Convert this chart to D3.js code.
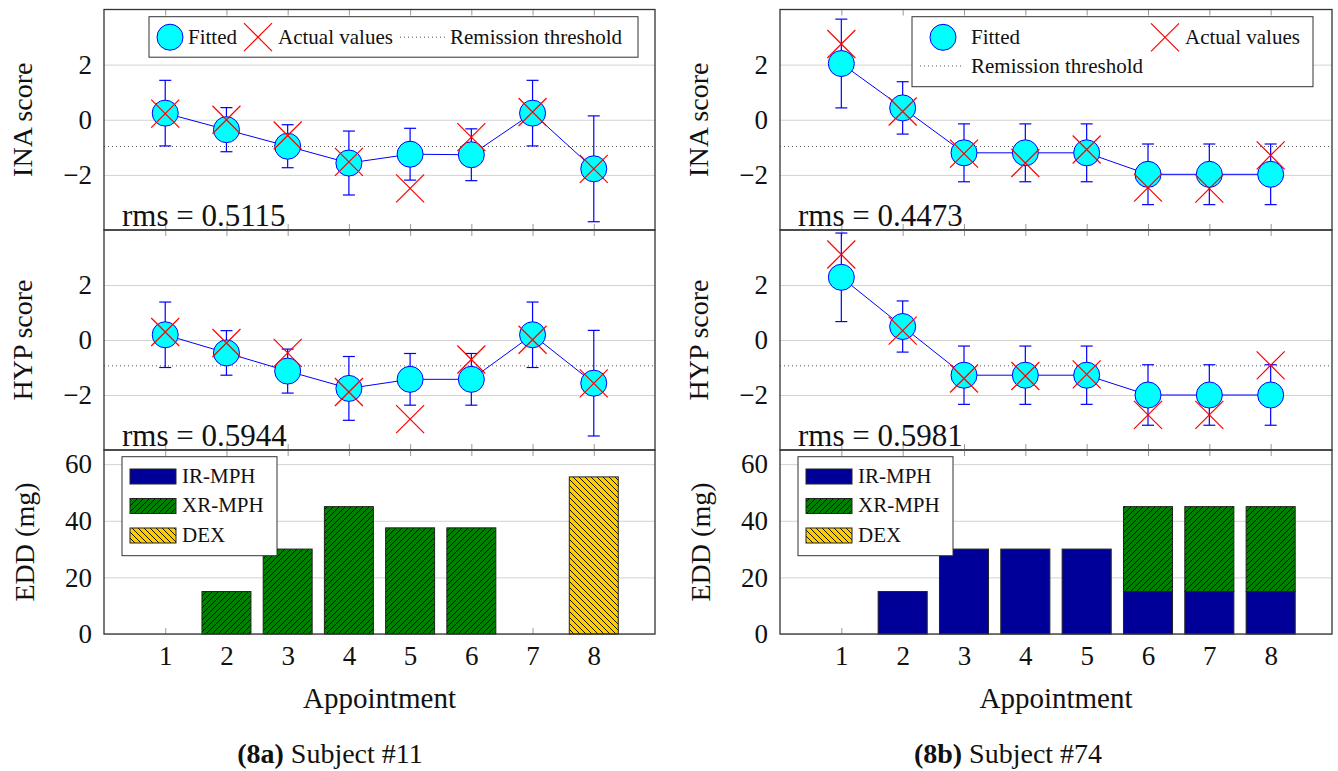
<!DOCTYPE html>
<html>
<head>
<meta charset="utf-8">
<script src="https://cdn.jsdelivr.net/npm/d3@7"></script>
<style>
  body { margin: 0; background: #fff; }
  text { font-family: "Liberation Serif", "Times New Roman", serif; fill: #111; }
</style>
</head>
<body>
<div id="chart"></div>
<script>
// appointments and tick labels
const appointments = [1, 2, 3, 4, 5, 6, 7, 8];
const scoreTicks = [-2, 0, 2];
const eddTicks = [0, 20, 40, 60];
const drugs = ["IR-MPH", "XR-MPH", "DEX"];

const inaThreshold = -0.97;
const hypThreshold = -0.94;

// Subject #11
const s11InaFitted = [0.24, -0.36, -0.96, -1.57, -1.25, -1.27, 0.24, -1.78];
const s11InaError  = [1.19, 0.80, 0.78, 1.16, 0.94, 0.94, 1.19, 1.92];
const s11InaActual = [0.22, 0.0, -0.57, -1.53, -2.49, -0.63, 0.28, -1.78];
const s11HypFitted = [0.19, -0.47, -1.13, -1.76, -1.43, -1.43, 0.19, -1.57];
const s11HypError  = [1.19, 0.81, 0.80, 1.16, 0.94, 0.94, 1.19, 1.92];
const s11HypActual = [0.29, -0.11, -0.47, -1.89, -2.88, -0.71, 0.01, -1.58];
const s11IrMph = [0, 0, 0, 0, 0, 0, 0, 0];
const s11XrMph = [0, 15, 30, 45, 37.5, 37.5, 0, 0];
const s11Dex   = [0, 0, 0, 0, 0, 0, 0, 55.5];
const s11Rms = ["0.5115", "0.5944"];

// Subject #74
const s74InaFitted = [2.04, 0.43, -1.2, -1.2, -1.2, -1.98, -1.98, -1.98];
const s74InaError  = [1.61, 0.95, 1.05, 1.05, 1.05, 1.1, 1.1, 1.1];
const s74InaActual = [2.75, 0.3, -1.23, -1.57, -1.08, -2.46, -2.5, -1.29];
const s74HypFitted = [2.28, 0.49, -1.28, -1.28, -1.28, -2.0, -2.0, -2.0];
const s74HypError  = [1.61, 0.93, 1.06, 1.06, 1.06, 1.1, 1.1, 1.1];
const s74HypActual = [3.11, 0.34, -1.4, -1.31, -1.25, -2.72, -2.72, -0.92];
const s74IrMph = [0, 15, 30, 30, 30, 15, 15, 15];
const s74XrMph = [0, 0, 0, 0, 0, 30, 30, 30];
const s74Dex   = [0, 0, 0, 0, 0, 0, 0, 0];
const s74Rms = ["0.4473", "0.5981"];

// layout
const W = 1338, H = 771;
const rows = { top: 9.5, mid: 230, bot: 450, base: 634 };

const svg = d3.select("#chart").append("svg")
    .attr("width", W).attr("height", H);

// hatch patterns
const defs = svg.append("defs");
function hatch(id, color, d) {
    const p = defs.append("pattern").attr("id", id)
        .attr("patternUnits", "userSpaceOnUse")
        .attr("width", 6).attr("height", 6);
    p.append("rect").attr("width", 6).attr("height", 6).attr("fill", color);
    p.append("path").attr("d", d).attr("stroke", "#000").attr("stroke-width", 0.9);
}
hatch("ne", "#008000", "M0,6L6,0M-1,1L1,-1M5,7L7,5");
hatch("nw", "#ffcc00", "M0,0L6,6M-1,5L1,7M5,-1L7,1");
const drugFill = { "IR-MPH": "#000099", "XR-MPH": "url(#ne)", "DEX": "url(#nw)" };

function table(ir, xr, dex) {
    return appointments.map((a, i) => ({ a: a, "IR-MPH": ir[i], "XR-MPH": xr[i], "DEX": dex[i] }));
}

const subjects = [
    {
        x0: 104, x1: 655, captionX: 330, tag: "(8a)", name: " Subject #11", legend: "row",
        scores: [
            { label: "INA score", fit: s11InaFitted, err: s11InaError, act: s11InaActual, thr: inaThreshold, rms: s11Rms[0] },
            { label: "HYP score", fit: s11HypFitted, err: s11HypError, act: s11HypActual, thr: hypThreshold, rms: s11Rms[1] }
        ],
        doses: table(s11IrMph, s11XrMph, s11Dex)
    },
    {
        x0: 780, x1: 1332, captionX: 1008, tag: "(8b)", name: " Subject #74", legend: "grid",
        scores: [
            { label: "INA score", fit: s74InaFitted, err: s74InaError, act: s74InaActual, thr: inaThreshold, rms: s74Rms[0] },
            { label: "HYP score", fit: s74HypFitted, err: s74HypError, act: s74HypActual, thr: hypThreshold, rms: s74Rms[1] }
        ],
        doses: table(s74IrMph, s74XrMph, s74Dex)
    }
];

const crossPath = "M-14,-14L14,14M-14,14L14,-14";

function yLabels(g, y, ticks, x0, x1) {
    // horizontal grid
    g.append("g").attr("transform", "translate(" + x0 + ",0)")
        .call(d3.axisLeft(y).tickValues(ticks).tickSize(-(x1 - x0)).tickFormat(""))
        .call(s => s.select(".domain").remove())
        .selectAll("line").attr("stroke", "#d2d2d2");
    // tick labels
    g.append("g").attr("transform", "translate(" + x0 + ",0)")
        .call(d3.axisLeft(y).tickValues(ticks).tickSize(0).tickPadding(12))
        .call(s => s.select(".domain").remove())
        .selectAll("text")
        .style("font-family", "'Liberation Serif', serif")
        .style("font-size", "27px")
        .attr("fill", "#222");
}

function xTicks(g, x, yTop, yBottom) {
    g.append("g").attr("transform", "translate(0," + yBottom + ")")
        .call(d3.axisBottom(x).tickValues(appointments).tickSize(-6).tickFormat(""))
        .call(s => s.select(".domain").remove())
        .selectAll("line").attr("stroke", "#999");
    g.append("g").attr("transform", "translate(0," + yTop + ")")
        .call(d3.axisTop(x).tickValues(appointments).tickSize(-6).tickFormat(""))
        .call(s => s.select(".domain").remove())
        .selectAll("line").attr("stroke", "#999");
}

function yTitle(g, txt, x, y) {
    g.append("text")
        .attr("transform", "translate(" + x + "," + y + ")rotate(-90)")
        .attr("text-anchor", "middle")
        .style("font-size", "28px")
        .text(txt);
}

function cross(g, cx, cy) {
    return g.append("path")
        .attr("transform", "translate(" + cx + "," + cy + ")")
        .attr("d", crossPath)
        .attr("fill", "none")
        .style("stroke", "#ff0000")
        .style("stroke-width", "1.2px");
}

function legendFitted(g, s) {
    const box = g.append("g");
    if (s.legend === "row") {
        const bx = s.x1 - 17 - 489, by = 16.7, cy = by + 20.5;
        box.append("rect").attr("x", bx).attr("y", by).attr("width", 489).attr("height", 40.5)
            .attr("fill", "#fff").attr("stroke", "#333");
        box.append("circle").attr("cx", bx + 21).attr("cy", cy).attr("r", 13)
            .attr("fill", "cyan").attr("stroke", "blue");
        box.append("text").attr("x", bx + 39).attr("y", cy + 7).style("font-size", "21px").text("Fitted");
        cross(box, bx + 109, cy);
        box.append("text").attr("x", bx + 129).attr("y", cy + 7).style("font-size", "21px").text("Actual values");
        box.append("line").attr("x1", bx + 251).attr("x2", bx + 296).attr("y1", cy).attr("y2", cy)
            .attr("stroke", "#555").attr("stroke-dasharray", "1,3");
        box.append("text").attr("x", bx + 301).attr("y", cy + 7).style("font-size", "21px").text("Remission threshold");
    } else {
        const bx = s.x1 - 19 - 401, by = 16.7, cy = by + 20.6, cy2 = by + 49.3;
        box.append("rect").attr("x", bx).attr("y", by).attr("width", 401).attr("height", 70)
            .attr("fill", "#fff").attr("stroke", "#333");
        box.append("circle").attr("cx", bx + 31).attr("cy", cy).attr("r", 13)
            .attr("fill", "cyan").attr("stroke", "blue");
        box.append("text").attr("x", bx + 59).attr("y", cy + 7).style("font-size", "21px").text("Fitted");
        cross(box, bx + 253, cy);
        box.append("text").attr("x", bx + 273).attr("y", cy + 7).style("font-size", "21px").text("Actual values");
        box.append("line").attr("x1", bx + 8).attr("x2", bx + 51).attr("y1", cy2).attr("y2", cy2)
            .attr("stroke", "#555").attr("stroke-dasharray", "1,3");
        box.append("text").attr("x", bx + 59).attr("y", cy2 + 7).style("font-size", "21px").text("Remission threshold");
    }
}

subjects.forEach(function (s) {
    const g = svg.append("g");

    const x = d3.scaleLinear().domain([0, 9]).range([s.x0, s.x1]);

    // two score panels
    const bands = [[rows.top, rows.mid], [rows.mid, rows.bot]];
    s.scores.forEach(function (p, k) {
        const top = bands[k][0], bottom = bands[k][1];
        const y = d3.scaleLinear().domain([-4, 4]).range([bottom, top]);
        const pg = g.append("g");

        yLabels(pg, y, scoreTicks, s.x0, s.x1);
        xTicks(pg, x, top, bottom);
        yTitle(pg, p.label, s.x0 - 72, (top + bottom) / 2);

        // remission threshold
        pg.append("line")
            .attr("x1", s.x0).attr("x2", s.x1)
            .attr("y1", y(p.thr)).attr("y2", y(p.thr))
            .attr("stroke", "#555").attr("stroke-dasharray", "1,3");

        const pts = appointments.map((a, i) => ({ a: a, fit: p.fit[i], err: p.err[i], act: p.act[i] }));

        // fitted line
        pg.append("path").datum(pts)
            .attr("fill", "none").attr("stroke", "blue").attr("stroke-width", 1)
            .attr("d", d3.line().x(d => x(d.a)).y(d => y(d.fit)));

        // error bars
        const eb = pg.append("g").selectAll("g").data(pts).enter().append("g")
            .attr("stroke", "blue").attr("stroke-width", 1.2);
        eb.append("line")
            .attr("x1", d => x(d.a)).attr("x2", d => x(d.a))
            .attr("y1", d => y(d.fit + d.err)).attr("y2", d => y(d.fit - d.err));
        eb.append("line")
            .attr("x1", d => x(d.a) - 6).attr("x2", d => x(d.a) + 6)
            .attr("y1", d => y(d.fit + d.err)).attr("y2", d => y(d.fit + d.err));
        eb.append("line")
            .attr("x1", d => x(d.a) - 6).attr("x2", d => x(d.a) + 6)
            .attr("y1", d => y(d.fit - d.err)).attr("y2", d => y(d.fit - d.err));

        // fitted markers
        pg.append("g").selectAll("circle").data(pts).enter().append("circle")
            .attr("cx", d => x(d.a)).attr("cy", d => y(d.fit)).attr("r", 13)
            .attr("fill", "cyan").attr("stroke", "blue").attr("stroke-width", 1);

        // actual values
        const ag = pg.append("g");
        pts.forEach(d => cross(ag, x(d.a), y(d.act)));

        // rms
        pg.append("text")
            .attr("x", s.x0 + 18).attr("y", bottom - 4)
            .style("font-size", "31px")
            .text("rms = " + p.rms);

        // frame
        pg.append("rect")
            .attr("x", s.x0).attr("y", top).attr("width", s.x1 - s.x0).attr("height", bottom - top)
            .attr("fill", "none").attr("stroke", "#333").attr("stroke-width", 1.3);

        if (k === 0) legendFitted(pg, s);
    });

    // dose panel
    const top = rows.bot, bottom = rows.base;
    const y = d3.scaleLinear().domain([0, 65]).range([bottom, top]);
    const bg = g.append("g");

    yLabels(bg, y, eddTicks, s.x0, s.x1);
    xTicks(bg, x, top, bottom);
    yTitle(bg, "EDD (mg)", s.x0 - 70, (top + bottom) / 2);

    const stacked = d3.stack().keys(drugs)(s.doses);
    const bw = (x(1) - x(0)) * 0.8;
    bg.append("g").selectAll("g").data(stacked).enter().append("g")
        .attr("fill", d => drugFill[d.key])
        .selectAll("rect")
        .data(d => d.filter(v => v[1] - v[0] > 0))
        .enter().append("rect")
        .attr("x", d => x(d.data.a) - bw / 2)
        .attr("width", bw)
        .attr("y", d => y(d[1]))
        .attr("height", d => y(d[0]) - y(d[1]))
        .attr("stroke", "#222").attr("stroke-width", 1);

    bg.append("rect")
        .attr("x", s.x0).attr("y", top).attr("width", s.x1 - s.x0).attr("height", bottom - top)
        .attr("fill", "none").attr("stroke", "#333").attr("stroke-width", 1.3);

    // dose legend
    const lx = s.x0 + 18, ly = 456.7;
    const lg = bg.append("g");
    lg.append("rect").attr("x", lx).attr("y", ly).attr("width", 155).attr("height", 99)
        .attr("fill", "#fff").attr("stroke", "#333");
    drugs.forEach(function (dname, i) {
        const ry = ly + 12.3 + i * 29.5;
        lg.append("rect").attr("x", lx + 8).attr("y", ry).attr("width", 46).attr("height", 15)
            .attr("fill", drugFill[dname]).attr("stroke", "#222");
        lg.append("text").attr("x", lx + 60).attr("y", ry + 13.5)
            .style("font-size", "21px").text(dname);
    });

    // x tick labels
    g.append("g").attr("transform", "translate(0," + bottom + ")")
        .call(d3.axisBottom(x).tickValues(appointments).tickSize(0).tickPadding(12))
        .call(a => a.select(".domain").remove())
        .selectAll("text")
        .style("font-family", "'Liberation Serif', serif")
        .style("font-size", "27px")
        .attr("fill", "#222");

    g.append("text")
        .attr("x", (s.x0 + s.x1) / 2).attr("y", 708)
        .attr("text-anchor", "middle")
        .style("font-size", "29px")
        .text("Appointment");

    const cap = g.append("text")
        .attr("x", s.captionX).attr("y", 763)
        .attr("text-anchor", "middle")
        .style("font-size", "28px");
    cap.append("tspan").style("font-weight", "bold").text(s.tag);
    cap.append("tspan").text(s.name);
});
</script>
</body>
</html>
